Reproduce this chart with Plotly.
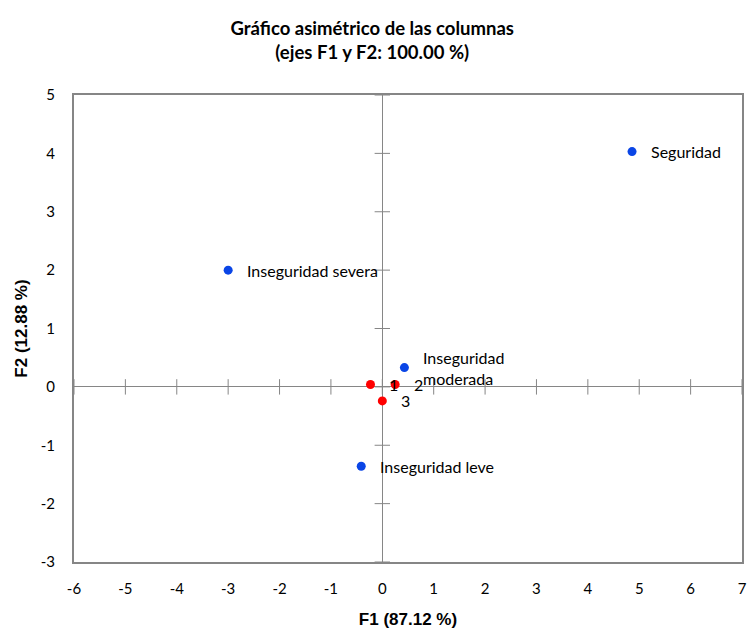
import plotly.graph_objects as go

# Column points (blue) and row points (red)
col_labels = ['Seguridad', 'Inseguridad severa', 'Inseguridad<br>moderada', 'Inseguridad leve']
col_f1 = [4.86, -3.0, 0.43, -0.41]
col_f2 = [4.03, 2.0, 0.33, -1.36]

row_labels = ['1', '2', '3']
row_f1 = [-0.23, 0.25, 0.0]
row_f2 = [0.04, 0.04, -0.24]

x_ticks = list(range(-6, 8))
y_ticks = list(range(-3, 6))

gray = '#868686'
blue = '#0A45E6'
red = '#FF0000'
txt_font = dict(family='Lato, Open Sans, sans-serif', size=16, color='black')
tick_font = dict(family='Lato, Open Sans, sans-serif', size=15, color='black')

fig = go.Figure()

# cross tick marks on the zero lines
fig.add_trace(go.Scatter(
    x=x_ticks, y=[0] * len(x_ticks), mode='markers', hoverinfo='skip',
    marker=dict(symbol='line-ns', size=11, line=dict(color=gray, width=1))
))
fig.add_trace(go.Scatter(
    x=[0] * len(y_ticks), y=y_ticks, mode='markers', hoverinfo='skip',
    marker=dict(symbol='line-ew', size=11, line=dict(color=gray, width=1))
))

fig.add_trace(go.Scatter(
    x=row_f1, y=row_f2, mode='markers',
    marker=dict(color=red, size=9)
))
fig.add_trace(go.Scatter(
    x=col_f1, y=col_f2, mode='markers',
    marker=dict(color=blue, size=9)
))

for lab, x, y in zip(col_labels + row_labels, col_f1 + row_f1, col_f2 + row_f2):
    fig.add_annotation(x=x, y=y, text=lab, showarrow=False, xanchor='left',
                       align='left', xshift=17, font=txt_font)

fig.update_layout(
    width=749, height=633,
    margin=dict(l=74, r=7, t=95, b=71),
    paper_bgcolor='white', plot_bgcolor='white',
    showlegend=False,
    title=dict(
        text='<b>Gráfico asimétrico de las columnas<br>(ejes F1 y F2: 100.00 %)</b>',
        x=0.497, xanchor='center', y=0.944, yanchor='top',
        font=dict(family='Lato, Open Sans, sans-serif', size=18.5, color='black')
    ),
)

fig.update_xaxes(
    range=[-6, 7], tickvals=x_ticks, ticktext=[str(v) for v in x_ticks],
    showgrid=False, automargin=False, ticklabeloverflow='allow',
    zeroline=True, zerolinecolor=gray, zerolinewidth=1,
    showline=True, linecolor=gray, linewidth=2, mirror=True,
    ticks='', tickfont=tick_font, ticklabelstandoff=12,
    title=dict(text='<b>F1 (87.12 %)</b>', standoff=17,
               font=dict(family='Liberation Sans, Arial', size=17, color='black'))
)
fig.update_yaxes(
    range=[-3, 5], tickvals=y_ticks, ticktext=[str(v) for v in y_ticks],
    showgrid=False, automargin=False, ticklabeloverflow='allow',
    zeroline=True, zerolinecolor=gray, zerolinewidth=1,
    showline=True, linecolor=gray, linewidth=2, mirror=True,
    ticks='', tickfont=tick_font, ticklabelstandoff=14,
    title=dict(text='<b>F2 (12.88 %)</b>', standoff=9,
               font=dict(family='Liberation Sans, Arial', size=17, color='black'))
)

# drop the default page margin so the figure fills the window exactly
fig.write_html('out.html', config={'displayModeBar': False},
               post_script="document.body.style.margin='0';document.body.style.overflow='hidden';")
